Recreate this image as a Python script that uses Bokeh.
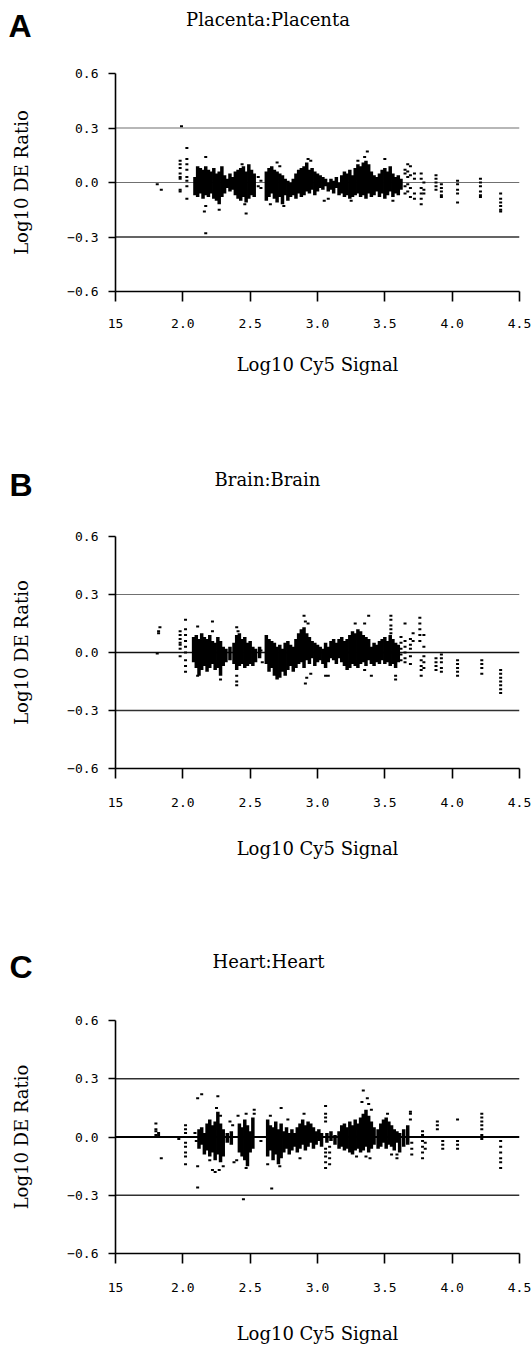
from bokeh.plotting import figure
from bokeh.layouts import column
from bokeh.models import Range1d, FixedTicker, Span
from bokeh.core.properties import value
from bokeh.embed import file_html
from bokeh.resources import INLINE

# ---------------- shared axis data ----------------
X_TICKS = [1.5, 2.0, 2.5, 3.0, 3.5, 4.0, 4.5]
X_TICK_LABELS = ["15", "2.0", "2.5", "3.0", "3.5", "4.0", "4.5"]
Y_TICKS = [-0.6, -0.3, 0.0, 0.3, 0.6]
Y_TICK_LABELS = ["\u22120.6", "\u22120.3", "0.0", "0.3", "0.6"]
GUIDE_LEVELS = [0.3, 0.0, -0.3]
PANEL_LETTERS = ["A", "B", "C"]
PANEL_TITLES = ["Placenta:Placenta", "Brain:Brain", "Heart:Heart"]
X_LABEL = "Log10 Cy5 Signal"
Y_LABEL = "Log10 DE Ratio"

# ---------------- panel A (Placenta) ----------------
A_RUN_X = [2.09, 2.11, 2.13, 2.15, 2.17, 2.19, 2.21, 2.23, 2.25, 2.27,
           2.29, 2.31, 2.33, 2.35, 2.37, 2.39, 2.41, 2.43, 2.45, 2.47,
           2.49, 2.51, 2.53, 2.62, 2.64, 2.66, 2.68, 2.70, 2.72, 2.74,
           2.76, 2.78, 2.80, 2.82, 2.84, 2.86, 2.88, 2.90, 2.92, 2.94,
           2.96, 2.98, 3.00, 3.02, 3.04, 3.06, 3.08, 3.10, 3.12, 3.14,
           3.16, 3.18, 3.20, 3.22, 3.24, 3.26, 3.28, 3.30, 3.32, 3.34,
           3.36, 3.38, 3.40, 3.42, 3.44, 3.46, 3.48, 3.50, 3.52, 3.54,
           3.56, 3.58, 3.60, 3.62]
A_RUN_LO = [-0.07, -0.08, -0.06, -0.09, -0.07, -0.08, -0.06, -0.09, -0.10, -0.12,
            -0.08, -0.06, -0.03, -0.05, -0.04, -0.07, -0.09, -0.10, -0.08, -0.11,
            -0.09, -0.07, -0.08, -0.10, -0.08, -0.06, -0.09, -0.11, -0.08, -0.12,
            -0.07, -0.10, -0.08, -0.07, -0.09, -0.06, -0.08, -0.07, -0.05, -0.06,
            -0.04, -0.07, -0.05, -0.03, -0.04, -0.02, -0.05, -0.04, -0.06, -0.03,
            -0.07, -0.06, -0.08, -0.07, -0.09, -0.08, -0.07, -0.06, -0.08, -0.07,
            -0.09, -0.06, -0.08, -0.07, -0.05, -0.08, -0.06, -0.09, -0.07, -0.05,
            -0.08, -0.06, -0.07, -0.04]
A_RUN_HI = [0.03, 0.09, 0.08, 0.07, 0.09, 0.07, 0.06, 0.08, 0.05, 0.06,
            0.09, 0.04, 0.02, 0.05, 0.03, 0.06, 0.07, 0.08, 0.09, 0.06,
            0.10, 0.07, 0.05, 0.06, 0.08, 0.09, 0.07, 0.06, 0.05, 0.04,
            0.02, 0.01, 0.00, 0.02, 0.05, 0.07, 0.08, 0.09, 0.11, 0.07,
            0.08, 0.06, 0.05, 0.04, 0.03, 0.02, 0.00, 0.02, 0.01, 0.03,
            0.00, 0.04, 0.06, 0.05, 0.07, 0.04, 0.08, 0.10, 0.09, 0.11,
            0.12, 0.10, 0.06, 0.04, 0.03, 0.05, 0.07, 0.08, 0.06, 0.09,
            0.05, 0.03, 0.04, 0.02]
A_PT_X = [1.81, 1.84, 1.99,
          1.98, 1.98, 1.98, 1.98, 1.98, 1.98, 1.98, 1.98,
          2.03, 2.03, 2.03, 2.03, 2.03, 2.03, 2.03, 2.03,
          2.17, 2.17, 2.16, 2.17, 2.27, 2.47, 2.44, 2.46,
          2.56, 2.56, 2.58, 2.58,
          2.70, 2.72, 2.65, 2.75, 2.93, 2.95, 3.05, 3.08,
          3.37, 3.35, 3.30, 3.50, 3.56, 3.25,
          3.65, 3.65, 3.65, 3.65,
          3.67, 3.67, 3.67, 3.67, 3.67,
          3.69, 3.69, 3.69, 3.69,
          3.72, 3.72, 3.72, 3.72,
          3.77, 3.77, 3.77, 3.77, 3.77, 3.77,
          3.79, 3.79, 3.79,
          3.88, 3.88, 3.88, 3.88, 3.88,
          3.92, 3.92, 3.92, 3.92, 3.92,
          4.04, 4.04, 4.04, 4.04, 4.04,
          4.21, 4.21, 4.21, 4.21, 4.21, 4.21,
          4.36, 4.36, 4.36, 4.36, 4.36, 4.36]
A_PT_Y = [-0.01, -0.04, 0.31,
          0.12, 0.10, 0.08, 0.05, 0.03, 0.02, -0.04, -0.05,
          0.19, 0.13, 0.10, 0.07, 0.03, 0.01, -0.02, -0.09,
          0.14, -0.13, -0.16, -0.28, -0.15, -0.17, 0.10, -0.12,
          0.03, -0.02, 0.01, -0.03,
          0.11, 0.09, -0.12, -0.13, 0.13, 0.12, -0.10, -0.09,
          0.17, 0.14, 0.12, 0.13, -0.10, -0.10,
          0.07, 0.05, -0.02, -0.06,
          0.10, 0.06, 0.03, -0.01, -0.05,
          0.09, 0.04, -0.03, -0.08,
          0.05, 0.02, -0.06, -0.09,
          0.05, 0.02, -0.03, -0.06, -0.09, -0.12,
          0.00, -0.04, -0.06,
          0.04, 0.02, 0.00, -0.02, -0.04,
          -0.01, -0.03, -0.05, -0.07, -0.08,
          0.01, -0.01, -0.04, -0.06, -0.11,
          0.02, 0.00, -0.02, -0.05, -0.07, -0.08,
          -0.06, -0.09, -0.11, -0.13, -0.15, -0.16]

# ---------------- panel B (Brain) ----------------
B_RUN_X = [2.08, 2.10, 2.12, 2.14, 2.16, 2.18, 2.20, 2.22, 2.24, 2.26,
           2.28, 2.30, 2.32, 2.35, 2.38, 2.40, 2.42, 2.44, 2.46, 2.48,
           2.50, 2.52, 2.54, 2.57, 2.62, 2.64, 2.66, 2.68, 2.70, 2.72,
           2.74, 2.76, 2.78, 2.80, 2.82, 2.84, 2.86, 2.88, 2.90, 2.92,
           2.94, 2.96, 2.98, 3.00, 3.02, 3.04, 3.06, 3.08, 3.10, 3.12,
           3.14, 3.16, 3.18, 3.20, 3.22, 3.24, 3.26, 3.28, 3.30, 3.32,
           3.34, 3.36, 3.38, 3.40, 3.42, 3.44, 3.46, 3.48, 3.50, 3.52,
           3.54, 3.56, 3.58, 3.60]
B_RUN_LO = [-0.05, -0.08, -0.12, -0.09, -0.07, -0.10, -0.08, -0.06, -0.09, -0.08,
            -0.12, -0.07, -0.05, -0.04, -0.06, -0.09, -0.07, -0.06, -0.08, -0.07,
            -0.06, -0.07, -0.05, -0.03, -0.06, -0.10, -0.08, -0.12, -0.14, -0.13,
            -0.10, -0.12, -0.09, -0.07, -0.10, -0.08, -0.06, -0.05, -0.08, -0.04,
            -0.06, -0.03, -0.07, -0.05, -0.04, -0.06, -0.08, -0.05, -0.03, -0.04,
            -0.06, -0.03, -0.05, -0.07, -0.09, -0.08, -0.06, -0.07, -0.08, -0.06,
            -0.05, -0.07, -0.04, -0.06, -0.07, -0.05, -0.06, -0.04, -0.06, -0.05,
            -0.07, -0.06, -0.08, -0.05]
B_RUN_HI = [0.08, 0.09, 0.07, 0.10, 0.08, 0.07, 0.09, 0.06, 0.05, 0.08,
            0.06, 0.03, 0.02, 0.03, 0.05, 0.09, 0.10, 0.07, 0.08, 0.05,
            0.06, 0.03, 0.02, 0.03, 0.09, 0.07, 0.06, 0.05, 0.03, 0.04,
            0.02, 0.05, 0.06, 0.04, 0.03, 0.07, 0.10, 0.12, 0.13, 0.10,
            0.08, 0.06, 0.05, 0.04, 0.03, 0.02, 0.05, 0.03, 0.06, 0.07,
            0.05, 0.07, 0.08, 0.06, 0.07, 0.09, 0.11, 0.10, 0.12, 0.11,
            0.09, 0.08, 0.07, 0.03, 0.05, 0.04, 0.06, 0.07, 0.08, 0.06,
            0.09, 0.07, 0.05, 0.04]
B_PT_X = [1.81, 1.82, 1.82, 1.83,
          1.98, 1.98, 1.98, 1.98, 1.98, 1.98, 1.98,
          2.02, 2.02, 2.02, 2.02, 2.02, 2.02, 2.02, 2.02, 2.02,
          2.11, 2.11, 2.22, 2.22, 2.28, 2.40, 2.41, 2.40, 2.40, 2.40, 2.46,
          2.58, 2.59,
          2.90, 2.91, 2.93, 2.91, 2.92, 2.95, 3.06, 3.08,
          3.28, 3.35, 3.38, 3.40, 3.35,
          3.545, 3.545, 3.545, 3.545, 3.545,
          3.58, 3.58,
          3.62, 3.62, 3.62, 3.62, 3.62,
          3.65, 3.65, 3.65, 3.65, 3.65, 3.65,
          3.69, 3.69, 3.69, 3.69, 3.69,
          3.71, 3.71,
          3.76, 3.76, 3.76, 3.76, 3.76,
          3.77, 3.77, 3.77, 3.77,
          3.79, 3.79, 3.79, 3.79, 3.79,
          3.88, 3.88, 3.88, 3.88,
          3.92, 3.92, 3.92, 3.92, 3.92,
          4.04, 4.04, 4.04, 4.04, 4.04,
          4.22, 4.22, 4.22, 4.22,
          4.36, 4.36, 4.36, 4.36, 4.36, 4.36, 4.36]
B_PT_Y = [-0.005, 0.10, 0.11, 0.13,
          0.11, 0.09, 0.07, 0.05, 0.04, 0.02, -0.02,
          0.17, 0.12, 0.09, 0.06, 0.03, 0.00, -0.04, -0.07, -0.10,
          0.135, -0.12, 0.16, 0.11, -0.14, 0.13, 0.11, -0.12, -0.15, -0.17, -0.06,
          0.01, -0.05,
          0.19, 0.16, 0.15, -0.16, -0.13, -0.11, -0.12, -0.12,
          0.15, 0.15, 0.19, -0.12, -0.09,
          0.19, 0.17, 0.14, 0.12, 0.10,
          -0.14, -0.12,
          0.08, 0.05, 0.02, -0.01, -0.04,
          0.15, 0.06, 0.03, 0.00, -0.03, -0.05,
          0.07, 0.04, 0.02, -0.02, -0.06,
          0.10, 0.06,
          0.18, 0.15, 0.12, 0.09, 0.06,
          -0.04, -0.07, -0.09, -0.12,
          0.09, 0.03, -0.02, -0.05, -0.08,
          -0.03, -0.05, -0.07, -0.09,
          -0.01, -0.03, -0.05, -0.08, -0.10,
          -0.04, -0.06, -0.08, -0.10, -0.12,
          -0.04, -0.06, -0.08, -0.11,
          -0.09, -0.11, -0.13, -0.15, -0.17, -0.19, -0.21]

# ---------------- panel C (Heart) ----------------
C_RUN_X = [2.12, 2.14, 2.16, 2.18, 2.20, 2.22, 2.24, 2.26, 2.28, 2.30,
           2.33, 2.36, 2.42, 2.44, 2.46, 2.48, 2.50, 2.52, 2.63, 2.65,
           2.67, 2.69, 2.71, 2.73, 2.75, 2.77, 2.79, 2.81, 2.83, 2.85,
           2.87, 2.89, 2.91, 2.93, 2.95, 2.97, 2.99, 3.01, 3.03, 3.07,
           3.10, 3.13, 3.16, 3.18, 3.20, 3.22, 3.24, 3.26, 3.28, 3.30,
           3.32, 3.34, 3.36, 3.38, 3.40, 3.42, 3.45, 3.47, 3.49, 3.51,
           3.53, 3.55, 3.57, 3.59, 3.61, 3.64, 3.67]
C_RUN_LO = [-0.06, -0.04, -0.09, -0.07, -0.10, -0.08, -0.12, -0.09, -0.13, -0.10,
            -0.03, -0.04, -0.08, -0.10, -0.12, -0.15, -0.08, -0.06, -0.10, -0.07,
            -0.12, -0.09, -0.14, -0.11, -0.08, -0.06, -0.09, -0.07, -0.05, -0.08,
            -0.06, -0.04, -0.07, -0.05, -0.03, -0.06, -0.04, -0.02, -0.05, -0.03,
            -0.02, -0.04, -0.06, -0.05, -0.07, -0.06, -0.08, -0.09, -0.07, -0.06,
            -0.08, -0.07, -0.05, -0.08, -0.06, -0.04, -0.06, -0.05, -0.03, -0.06,
            -0.04, -0.05, -0.07, -0.03, -0.08, -0.05, -0.04]
C_RUN_HI = [0.04, 0.05, 0.02, 0.07, 0.09, 0.06, 0.08, 0.13, 0.07, 0.04,
            0.02, 0.03, 0.07, 0.05, 0.09, 0.06, 0.03, 0.10, 0.09, 0.06,
            0.05, 0.08, 0.04, 0.07, 0.03, 0.05, 0.02, 0.04, 0.02, 0.05,
            0.07, 0.09, 0.06, 0.08, 0.07, 0.05, 0.03, 0.04, 0.02, 0.02,
            0.03, 0.01, 0.03, 0.06, 0.07, 0.05, 0.08, 0.06, 0.09, 0.07,
            0.10, 0.12, 0.14, 0.11, 0.08, 0.05, 0.04, 0.07, 0.09, 0.10,
            0.08, 0.06, 0.04, 0.03, 0.02, 0.04, 0.06]
C_PT_X = [1.80, 1.80, 1.80, 1.80,
          1.82, 1.82, 1.84,
          1.97,
          2.02, 2.02, 2.02, 2.02, 2.02, 2.02, 2.02, 2.02,
          2.11, 2.14, 2.11, 2.11, 2.09, 2.10,
          2.26, 2.25, 2.28, 2.22, 2.24, 2.27, 2.20, 2.30,
          2.35, 2.37, 2.38, 2.40, 2.41, 2.45, 2.47, 2.47,
          2.53, 2.53, 2.58,
          2.63, 2.66, 2.65, 2.72, 2.73, 2.78, 2.87, 2.90,
          3.06, 3.06, 3.06, 3.06, 3.06, 3.06, 3.06, 3.06, 3.06,
          3.09, 3.09, 3.09, 3.09,
          3.29, 3.33, 3.34, 3.37, 3.38, 3.40, 3.36, 3.39,
          3.52, 3.55, 3.59, 3.59,
          3.69, 3.69, 3.69,
          3.70, 3.70, 3.70,
          3.78, 3.78, 3.78, 3.78, 3.78, 3.78,
          3.80, 3.80, 3.80,
          3.89, 3.89, 3.89,
          3.93, 3.93, 3.93, 3.93,
          4.04, 4.04, 4.04, 4.04, 4.04,
          4.22, 4.22, 4.22, 4.22, 4.22, 4.22, 4.22,
          4.36, 4.36, 4.36, 4.36, 4.36, 4.36]
C_PT_Y = [0.07, 0.04, 0.03, 0.01,
          0.02, 0.01, -0.11,
          -0.01,
          0.06, 0.04, 0.02, -0.03, -0.05, -0.08, -0.10, -0.14,
          0.20, 0.22, -0.15, -0.26, 0.02, -0.02,
          0.21, 0.15, 0.11, -0.17, -0.18, -0.17, -0.12, -0.15,
          0.08, 0.06, -0.13, -0.12, 0.11, -0.32, -0.16, 0.12,
          0.14, 0.12, -0.02,
          -0.14, -0.265, 0.11, -0.15, 0.15, 0.09, -0.11, 0.12,
          0.16, 0.12, 0.10, 0.08, -0.06, -0.08, -0.10, -0.13, -0.16,
          -0.05, -0.08, -0.11, -0.14,
          -0.10, 0.18, 0.24, 0.20, 0.17, 0.14, -0.10, -0.11,
          0.12, -0.09, -0.11, -0.09,
          0.13, 0.12, 0.09,
          -0.03, -0.06, -0.09,
          0.03, 0.01, -0.02, -0.05, -0.08, -0.11,
          0.00, -0.03, -0.06,
          0.08, 0.06, 0.04,
          0.00, -0.02, -0.04, -0.06,
          0.09, 0.00, -0.02, -0.04, -0.06,
          0.12, 0.10, 0.08, 0.06, 0.04, 0.01, -0.01,
          -0.02, -0.05, -0.08, -0.11, -0.13, -0.16]

# ---------------- layout / style (not data) ----------------
PAGE_W = 531
FRAME_LEFT = 115
FRAME_RIGHT_BORDER = 12
FRAME_W = PAGE_W - FRAME_LEFT - FRAME_RIGHT_BORDER
# header strips: height, letter standoff from the frame edge,
# title (centre x in page pixels, y from the strip top)
HEADERS = [
    dict(h=50, letter_standoff=84, title=(267.5, 18.5)),
    dict(h=60, letter_standoff=83, title=(267, 25)),
    dict(h=60, letter_standoff=83, title=(268, 25)),
]
GEOMETRY = [
    dict(top=23, fh=218, bottom=163, xstand=17, xlab=23, ystand=10, ylab=32),
    dict(top=22, fh=232, bottom=168, xstand=19, xlab=28, ystand=10, ylab=32),
    dict(top=24, fh=233, bottom=92, xstand=19, xlab=28, ystand=10, ylab=32),
]
GUIDE_STYLES = [
    [("#707070", 1.2), ("#707070", 1.2), ("#303030", 1.6)],
    [("#707070", 1.2), ("#111111", 1.6), ("#303030", 1.6)],
    [("#303030", 1.5), ("#000000", 1.8), ("#303030", 1.5)],
]

TICK_FONT = "DejaVu Sans Mono"
TEXT_FONT = "DejaVu Serif"
LETTER_FONT = "Liberation Sans"


def build_header(i):
    hd = HEADERS[i]
    h = hd["h"]
    p = figure(width=PAGE_W, height=h, title=None,
               x_range=Range1d(FRAME_LEFT, PAGE_W - FRAME_RIGHT_BORDER),
               y_range=Range1d(h, 0), x_axis_type=None,
               min_border_left=FRAME_LEFT,
               min_border_right=FRAME_RIGHT_BORDER,
               min_border_top=0, min_border_bottom=0,
               output_backend="svg", toolbar_location=None,
               background_fill_color="white", border_fill_color="white")
    p.outline_line_color = None
    p.xgrid.visible = False
    p.ygrid.visible = False
    # panel letter, shown as a horizontal axis label left of the strip
    ya = p.yaxis[0]
    ya.ticker = FixedTicker(ticks=[], minor_ticks=[])
    ya.axis_line_color = None
    ya.major_tick_line_color = None
    ya.minor_tick_line_color = None
    ya.major_label_text_font_size = "0px"
    ya.axis_label = PANEL_LETTERS[i]
    ya.axis_label_orientation = "horizontal"
    ya.axis_label_text_font = LETTER_FONT
    ya.axis_label_text_font_style = "bold"
    ya.axis_label_text_font_size = "32px"
    ya.axis_label_text_color = "black"
    ya.axis_label_standoff = hd["letter_standoff"]
    # panel title
    tx, ty = hd["title"]
    p.text(x=[tx], y=[ty], text=[PANEL_TITLES[i]],
           text_font=value(TEXT_FONT), text_font_style=value("normal"),
           text_font_size=value("18px"), text_color="black",
           text_align="center", text_baseline="alphabetic")
    return p


def build_panel(i, run_x, run_lo, run_hi, pt_x, pt_y):
    g = GEOMETRY[i]
    p = figure(frame_width=FRAME_W, frame_height=g["fh"], title=None,
               min_border_left=FRAME_LEFT, min_border_right=FRAME_RIGHT_BORDER,
               min_border_top=g["top"], min_border_bottom=g["bottom"],
               x_range=Range1d(X_TICKS[0], X_TICKS[-1]),
               y_range=Range1d(Y_TICKS[0], Y_TICKS[-1]),
               output_backend="svg", toolbar_location=None,
               background_fill_color="white", border_fill_color="white")
    p.outline_line_color = None
    p.xgrid.visible = False
    p.ygrid.visible = False

    for lvl, (col, w) in zip(GUIDE_LEVELS, GUIDE_STYLES[i]):
        p.add_layout(Span(location=lvl, dimension="width", line_color=col,
                          line_width=w, level="underlay"))

    p.segment(x0=run_x, y0=run_lo, x1=run_x, y1=run_hi,
              line_color="black", line_width=3.5)
    p.rect(x=pt_x, y=pt_y, width=3, height=2,
           width_units="screen", height_units="screen",
           fill_color="black", line_color=None)

    xa = p.xaxis[0]
    xa.ticker = FixedTicker(ticks=X_TICKS, minor_ticks=[])
    xa.major_label_overrides = dict(zip(X_TICKS, X_TICK_LABELS))
    xa.axis_label = X_LABEL
    xa.major_label_standoff = g["xstand"]
    xa.axis_label_standoff = g["xlab"]

    ya = p.yaxis[0]
    ya.ticker = FixedTicker(ticks=Y_TICKS, minor_ticks=[])
    ya.major_label_overrides = dict(zip(Y_TICKS, Y_TICK_LABELS))
    ya.axis_label = Y_LABEL
    ya.major_label_standoff = g["ystand"]
    ya.axis_label_standoff = g["ylab"]

    for ax, tout in ((xa, 10), (ya, 7)):
        ax.axis_line_color = "black"
        ax.axis_line_width = 1.6
        ax.major_tick_line_color = "black"
        ax.major_tick_line_width = 1.6
        ax.major_tick_out = tout
        ax.major_tick_in = 0
        ax.minor_tick_line_color = None
        ax.major_label_text_font = TICK_FONT
        ax.major_label_text_font_size = "13px"
        ax.major_label_text_color = "black"
        ax.axis_label_text_font = TEXT_FONT
        ax.axis_label_text_font_size = "18px"
        ax.axis_label_text_font_style = "normal"
        ax.axis_label_text_color = "black"
    return p


ha = build_header(0)
pa = build_panel(0, A_RUN_X, A_RUN_LO, A_RUN_HI, A_PT_X, A_PT_Y)
hb = build_header(1)
pb = build_panel(1, B_RUN_X, B_RUN_LO, B_RUN_HI, B_PT_X, B_PT_Y)
hc = build_header(2)
pc = build_panel(2, C_RUN_X, C_RUN_LO, C_RUN_HI, C_PT_X, C_PT_Y)

layout = column(ha, pa, hb, pb, hc, pc)
open("out.html", "w").write(file_html(layout, INLINE))
